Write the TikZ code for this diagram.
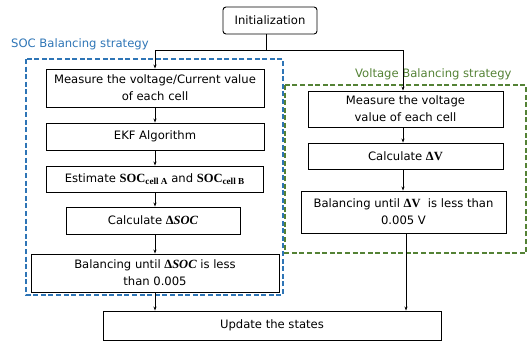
\documentclass[tikz,border=0pt]{standalone}
\usepackage{fontspec}
\setmainfont{DejaVu Sans}
\newfontfamily\formulafont[Scale=1.08]{Liberation Serif}
\usetikzlibrary{arrows.meta}
\definecolor{socblue}{RGB}{46,117,182}
\definecolor{voltgreen}{RGB}{84,130,53}
% bold serif quantities used inside the step texts
\newcommand{\boldq}[1]{{\formulafont\bfseries #1}}
\newcommand{\boldqsub}[2]{{\formulafont\bfseries #1}\raisebox{-0.35ex}{\formulafont\bfseries\fontsize{8.5}{10}\selectfont #2}}
\newcommand{\deltaq}[1]{{\formulafont\bfseries Δ\itshape #1}}
\tikzset{
  every node/.style={font=\fontsize{11.6}{17}\selectfont},
  stepbox/.style={draw=black, line width=0.9pt, align=center, inner sep=0pt},
  flow/.style={-{Stealth[length=4pt,width=3pt]}, line width=0.8pt},
  groupbox/.style={dashed, line width=1.6pt, dash pattern=on 5pt off 2.6pt},
}
\newcommand{\boxat}[6]{% name, x1, y1, x2, y2, text
  \node[stepbox, minimum width=#4pt-#2pt, minimum height=#5pt-#3pt] (#1) at ({(#2+#4)/2}, {(#3+#5)/2}) {#6};}
\begin{document}
\begin{tikzpicture}[x=1pt, y=-1pt]
\useasboundingbox (0,0) rectangle (529,341);

% group frames
\draw[groupbox, socblue] (26,59) rectangle (283,295);
\node[text=socblue, anchor=west, inner sep=0pt] (soclabel) at (11,44) {SOC Balancing strategy};
\draw[groupbox, voltgreen] (285,85) rectangle (526,253);
\node[text=voltgreen, anchor=west, inner sep=0pt] (vlabel) at (355,74) {Voltage Balancing strategy};

% start
\node[stepbox, rounded corners=3pt, minimum width=94pt, minimum height=27pt] (init) at (270,20.5) {Initialization};

% SOC branch
\boxat{m1}{46}{69}{264}{107}{Measure the voltage/Current value\\of each cell}
\boxat{ekf}{46}{123}{264}{150}{EKF Algorithm}
\boxat{est}{46}{166}{263}{192}{Estimate \boldqsub{SOC}{cell A} and \boldqsub{SOC}{cell B}}
\boxat{dsoc}{66}{207}{240}{234}{Calculate \deltaq{SOC}}
\boxat{bsoc}{31}{254}{279}{292}{Balancing until \deltaq{SOC} is less\\than 0.005}

% voltage branch
\boxat{m2}{308}{91}{503}{127}{Measure the voltage\\value of each cell}
\boxat{dv}{308}{143}{503}{169}{Calculate \boldq{ΔV}}
\boxat{bv}{301}{191}{506}{233}{Balancing until \boldq{ΔV}\ \ is less than\\0.005 V}

% end
\boxat{upd}{103}{311}{441}{340}{Update the states}

% connectors
\coordinate (split) at (266,50);
\draw[line width=0.8pt] (init.south -| split) -- (split);
\draw[flow] (split) -- (155,50) -- (m1.north -| 155,0);
\draw[flow] (split) -- (403,50) -- (m2.north -| 403,0);
\draw[flow] (m1.south -| 155,0) -- (ekf.north -| 155,0);
\draw[flow] (ekf.south -| 155,0) -- (est.north -| 155,0);
\draw[flow] (est.south -| 155,0) -- (dsoc.north -| 155,0);
\draw[flow] (dsoc.south -| 155,0) -- (bsoc.north -| 155,0);
\draw[flow] (bsoc.south -| 155,0) -- (upd.north -| 155,0);
\draw[flow] (m2.south -| 403,0) -- (dv.north -| 403,0);
\draw[flow] (dv.south -| 403,0) -- (bv.north -| 403,0);
\draw[flow] (bv.south -| 406,0) -- (upd.north -| 406,0);
\end{tikzpicture}
\end{document}
